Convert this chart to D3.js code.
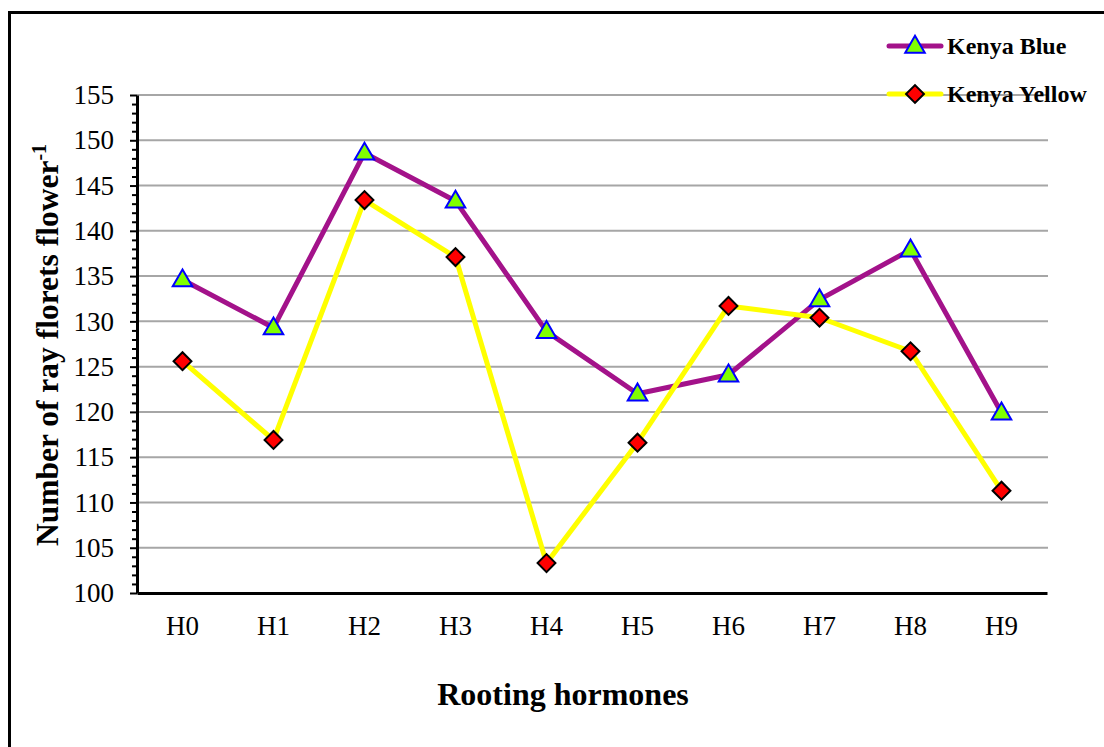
<!DOCTYPE html>
<html>
<head>
<meta charset="utf-8">
<script src="https://cdn.jsdelivr.net/npm/d3@7"></script>
<style>
  html, body { margin: 0; padding: 0; background: #fff; }
  svg { display: block; font-family: "Liberation Serif", "Times New Roman", serif; }
</style>
</head>
<body>
<svg id="chart" width="1104" height="747"></svg>
<script>
// Rooting hormone treatments
const hormones = ["H0", "H1", "H2", "H3", "H4", "H5", "H6", "H7", "H8", "H9"];
// Mean number of ray florets per flower
const kenyaBlue   = [134.6, 129.3, 148.6, 143.3, 128.9, 122.0, 124.1, 132.4, 137.9, 119.9];
const kenyaYellow = [125.6, 116.9, 143.4, 137.1, 103.3, 116.6, 131.7, 130.4, 126.7, 111.3];
const yTicks = [100, 105, 110, 115, 120, 125, 130, 135, 140, 145, 150, 155];
const seriesNames = ["Kenya Blue", "Kenya Yellow"];

const svg = d3.select("#chart");

const plot = { left: 137, right: 1047, top: 95, bottom: 593 };

const x = d3.scaleBand().domain(hormones).range([plot.left, plot.right]);
const y = d3.scaleLinear().domain([100, 155]).range([plot.bottom, plot.top]);

// Outer frame (top and left edges)
svg.append("path")
  .attr("d", "M9.5,747 L9.5,12.5 L1104,12.5")
  .attr("fill", "none").attr("stroke", "#000").attr("stroke-width", 3);

// Horizontal gridlines
svg.append("g")
  .selectAll("line")
  .data(yTicks.filter(d => d > 100))
  .join("line")
  .attr("x1", plot.left).attr("x2", plot.right + 1)
  .attr("y1", d => y(d)).attr("y2", d => y(d))
  .attr("stroke", "#a6a6a6").attr("stroke-width", 2);

// Y axis with minor ticks every unit
const minorTicks = d3.range(100, 156, 1).filter(d => d % 5 !== 0);
const yMinor = svg.append("g").attr("transform", `translate(${plot.left},0)`)
  .call(d3.axisLeft(y).tickValues(minorTicks).tickSize(5).tickFormat(""));
yMinor.select(".domain").remove();
yMinor.selectAll(".tick line").attr("stroke", "#000").attr("stroke-width", 2);

const yAxis = svg.append("g").attr("transform", `translate(${plot.left},0)`)
  .call(d3.axisLeft(y).tickValues(yTicks).tickSize(7).tickPadding(16).tickSizeOuter(0));
yAxis.select(".domain").attr("stroke", "#000").attr("stroke-width", 3);
yAxis.selectAll(".tick line").attr("stroke", "#000").attr("stroke-width", 2);
yAxis.selectAll(".tick text")
  .attr("font-size", 27).attr("fill", "#000")
  .style("font-family", "'Liberation Serif', serif");

// X axis
const xAxis = svg.append("g").attr("transform", `translate(0,${plot.bottom})`)
  .call(d3.axisBottom(x).tickSize(0).tickPadding(23).tickSizeOuter(0));
xAxis.select(".domain").attr("stroke", "#000").attr("stroke-width", 3);
xAxis.selectAll(".tick text")
  .attr("font-size", 27).attr("fill", "#000")
  .style("font-family", "'Liberation Serif', serif");

// Axis titles
svg.append("text")
  .attr("x", 563).attr("y", 705)
  .attr("text-anchor", "middle")
  .attr("font-size", 32).attr("font-weight", "bold")
  .text("Rooting hormones");

const yTitle = svg.append("text")
  .attr("transform", "translate(58,345) rotate(-90)")
  .attr("text-anchor", "middle")
  .attr("font-size", 31.5).attr("font-weight", "bold");
yTitle.append("tspan").text("Number of ray florets flower");
yTitle.append("tspan").attr("dy", -12).attr("font-size", 20).text("-1");

// Series: lines first, then markers, Kenya Yellow above Kenya Blue
const colors = { blue: "#a3128a", yellow: "#ffff00" };
const cx = d => x(d) + x.bandwidth() / 2;

const line = d3.line().x((d, i) => cx(hormones[i])).y(d => y(d));

svg.append("path").datum(kenyaBlue)
  .attr("d", line).attr("fill", "none")
  .attr("stroke", colors.blue).attr("stroke-width", 5).attr("stroke-linejoin", "round");

svg.append("path").datum(kenyaYellow)
  .attr("d", line).attr("fill", "none")
  .attr("stroke", colors.yellow).attr("stroke-width", 5).attr("stroke-linejoin", "round");

const triangle = d3.symbol().type(d3.symbolTriangle).size(165);
const diamond = d3.symbol().type(d3.symbolSquare).size(160);

function drawTriangle(g, px, py) {
  g.append("path").attr("d", triangle())
    .attr("transform", `translate(${px},${py + 1})`)
    .attr("fill", "#80ff00").attr("stroke", "#0000ff").attr("stroke-width", 2);
}
function drawDiamond(g, px, py) {
  g.append("path").attr("d", diamond())
    .attr("transform", `translate(${px},${py}) rotate(45)`)
    .attr("fill", "#ff0000").attr("stroke", "#000").attr("stroke-width", 2);
}

const markers = svg.append("g");
kenyaBlue.forEach((v, i) => drawTriangle(markers, cx(hormones[i]), y(v)));
kenyaYellow.forEach((v, i) => drawDiamond(markers, cx(hormones[i]), y(v)));

// Legend
const legend = svg.append("g");
const legendRows = [
  { name: seriesNames[0], color: colors.blue, y: 46, marker: drawTriangle },
  { name: seriesNames[1], color: colors.yellow, y: 94, marker: drawDiamond }
];
legendRows.forEach(r => {
  legend.append("line")
    .attr("x1", 889).attr("x2", 941).attr("y1", r.y).attr("y2", r.y)
    .attr("stroke", r.color).attr("stroke-width", 5).attr("stroke-linecap", "round");
  r.marker(legend, 915, r.y);
  legend.append("text")
    .attr("x", 947).attr("y", r.y + 8)
    .attr("font-size", 24).attr("font-weight", "bold")
    .text(r.name);
});
</script>
</body>
</html>
